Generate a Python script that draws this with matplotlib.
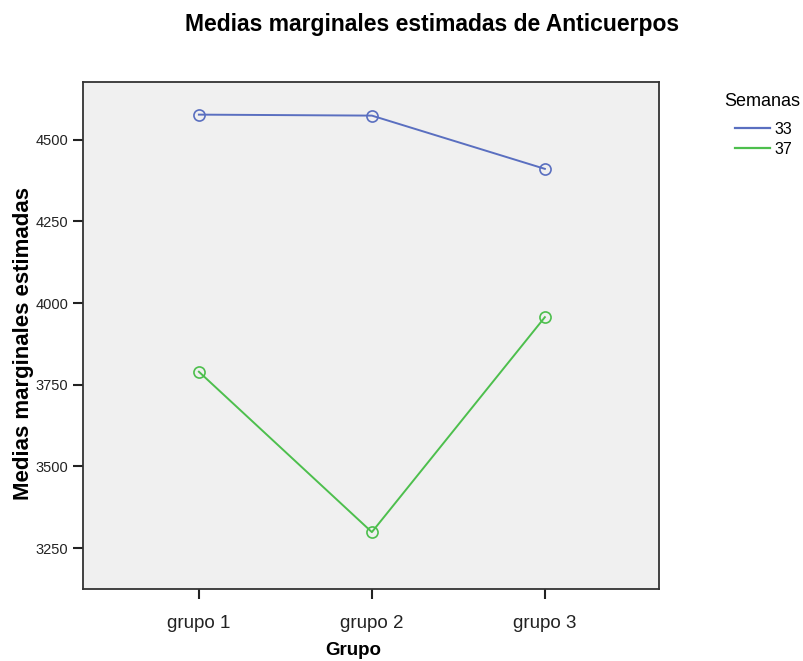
import matplotlib
matplotlib.use("Agg")
import matplotlib.pyplot as plt
from matplotlib.lines import Line2D

plt.rcParams['font.family'] = ['Liberation Sans', 'DejaVu Sans']

# data
grupos = ["grupo 1", "grupo 2", "grupo 3"]
semana_33 = [4577, 4574, 4411]
semana_37 = [3790, 3299, 3957]
yticks = [3250, 3500, 3750, 4000, 4250, 4500]

col_33 = "#5a6fc0"
col_37 = "#4dbf4d"

fig = plt.figure(figsize=(8.04, 6.61), dpi=100)
ax = fig.add_axes([0.1032, 0.109, 0.7165, 0.767])
ax.set_facecolor("#f0f0f0")

x = list(range(len(grupos)))
ax.plot(x, semana_33, color=col_33, lw=1.4, marker="o", ms=8,
        mfc="none", mec=col_33, mew=1.2)
ax.plot(x, semana_37, color=col_37, lw=1.4, marker="o", ms=8,
        mfc="none", mec=col_37, mew=1.2)

ax.set_xlim(-0.67, 2.66)
ax.set_ylim(3125, 4677)
ax.set_xticks(x)
ax.set_xticklabels(grupos, fontsize=13.5, color="#222222")
ax.set_yticks(yticks)
ax.tick_params(axis="y", labelsize=10.5, length=7, width=1.5, colors="#222222")
ax.tick_params(axis="x", length=7, width=1.5, pad=12, colors="#222222")
for s in ax.spines.values():
    s.set_linewidth(1.3)
    s.set_color("#333333")

ax.set_xlabel("Grupo", fontsize=13.5, fontweight="bold")
ax.xaxis.set_label_coords(0.47, -0.105)
ax.set_ylabel("Medias marginales estimadas", fontsize=16, fontweight="bold")
ax.yaxis.set_label_coords(-0.085, 0.485)

fig.text(432 / 804, 1 - 25 / 661, "Medias marginales estimadas de Anticuerpos",
         ha="center", va="center", fontsize=16.5, fontweight="bold")

# legend title drawn separately so the gap to the entries matches
fig.text(724 / 804, 1 - 101 / 661, "Semanas", ha="left", va="center", fontsize=13)
handles = [Line2D([0], [0], color=col_33, lw=1.6),
           Line2D([0], [0], color=col_37, lw=1.6)]
leg = fig.legend(handles, ["33", "37"], loc="upper left",
                 bbox_to_anchor=(735 / 804, 1 - 122 / 661), frameon=False,
                 fontsize=11.5, handlelength=2.2, handletextpad=0.3,
                 labelspacing=0.3, borderpad=0, borderaxespad=0)

fig.savefig("out.png", dpi=100)
